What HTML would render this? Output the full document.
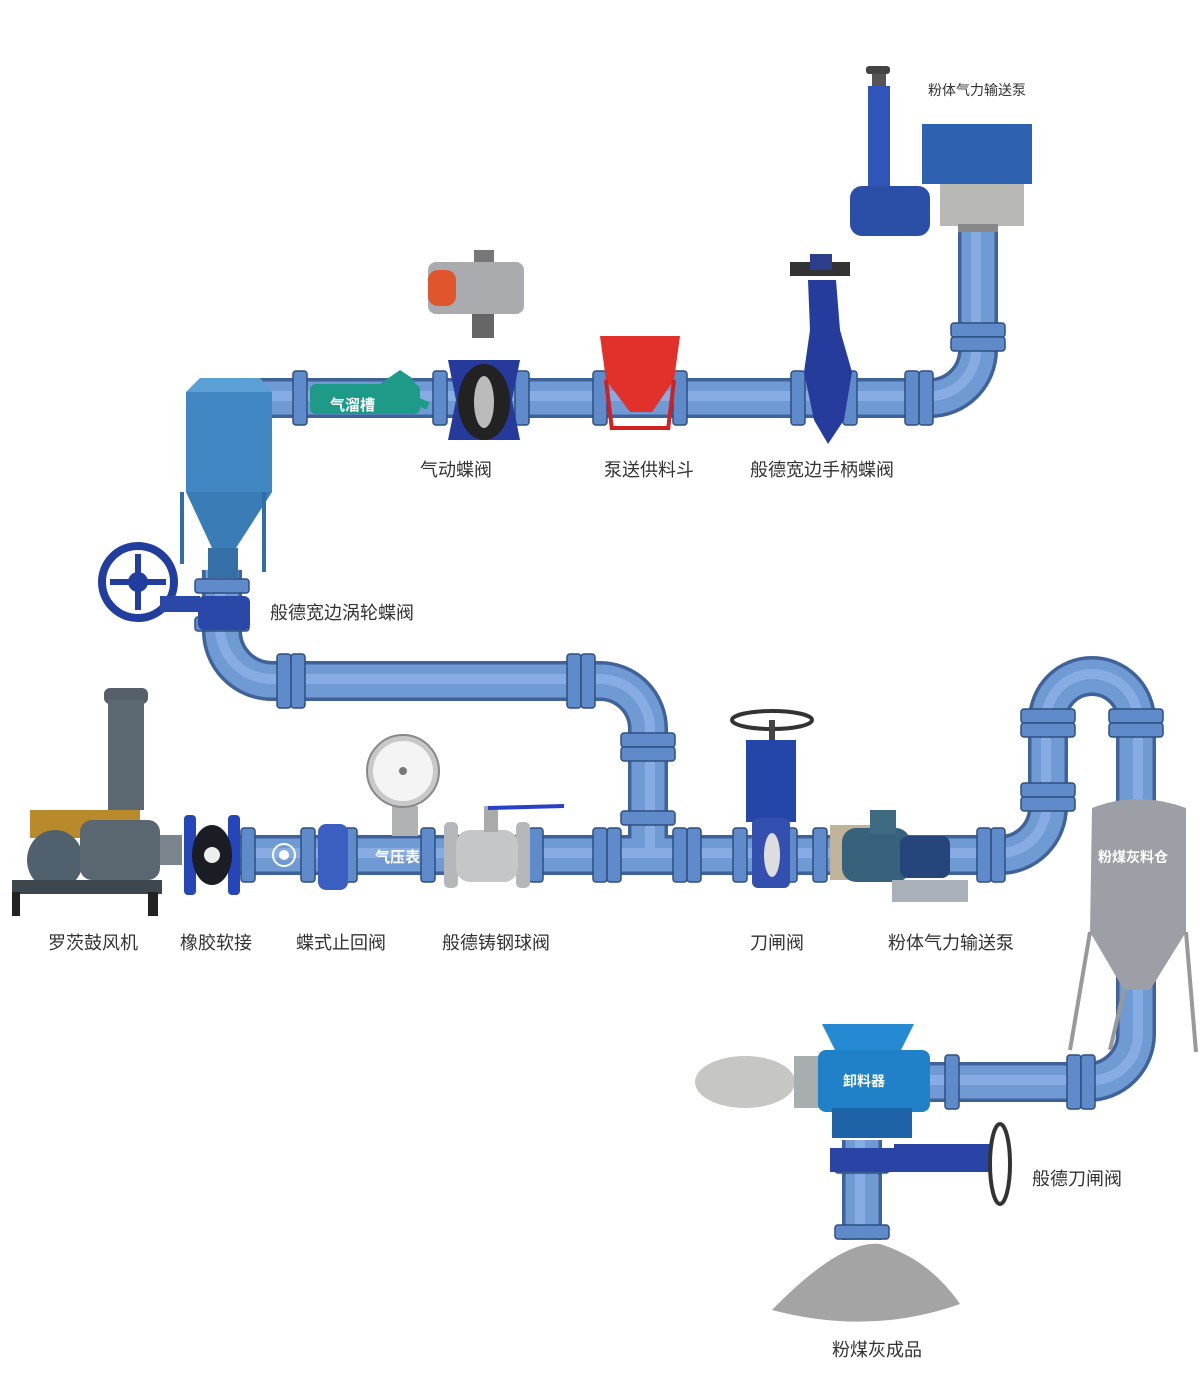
<!DOCTYPE html>
<html><head><meta charset="utf-8"><style>
html,body{margin:0;padding:0;background:#fff;}
svg{display:block;}
text{font-family:"Liberation Sans","Noto Sans CJK SC",sans-serif;}
</style></head><body>
<svg width="1200" height="1388" viewBox="0 0 1200 1388" xmlns="http://www.w3.org/2000/svg">
<defs>
<g id="fh"><rect x="-7" y="-27" width="14" height="54" rx="3" fill="#5f8bcb" stroke="#2f4f80" stroke-width="1.5"/></g>
<g id="fv"><rect x="-27" y="-7" width="54" height="14" rx="3" fill="#5f8bcb" stroke="#2f4f80" stroke-width="1.5"/></g>
</defs>
<g fill="none" stroke-linejoin="round">
<g stroke="#3f6399" stroke-width="40">
<path d="M240 398 H930 A48 48 0 0 0 978 350 V225"/>
<path d="M222 570 V630 A50 50 0 0 0 272 681 H600 A48 48 0 0 1 648 729 V855"/>
<path d="M240 855 H1000 A48 48 0 0 0 1048 807 V720 A44 44 0 0 1 1136 720 V1034 A48 48 0 0 1 1088 1082 H900"/>
<path d="M862 1140 V1240"/>
</g>
<g stroke="#6f9ad4" stroke-width="33">
<path d="M240 398 H930 A48 48 0 0 0 978 350 V225"/>
<path d="M222 570 V630 A50 50 0 0 0 272 681 H600 A48 48 0 0 1 648 729 V855"/>
<path d="M240 855 H1000 A48 48 0 0 0 1048 807 V720 A44 44 0 0 1 1136 720 V1034 A48 48 0 0 1 1088 1082 H900"/>
<path d="M862 1140 V1240"/>
</g>
<g stroke="#86ace3" stroke-width="10">
<path d="M240 396 H930 A46 46 0 0 0 976 350 V225"/>
<path d="M220 570 V630 A52 52 0 0 0 272 679 H600 A50 50 0 0 1 650 729 V855"/>
<path d="M240 853 H1000 A46 46 0 0 0 1046 807 V720 A46 46 0 0 1 1138 720 V1034 A46 46 0 0 1 1088 1080 H900"/>
<path d="M860 1140 V1240"/>
</g>
</g>
<g>
<use href="#fh" x="300" y="398"/><use href="#fh" x="440" y="398"/><use href="#fh" x="522" y="398"/>
<use href="#fh" x="600" y="398"/><use href="#fh" x="680" y="398"/><use href="#fh" x="798" y="398"/>
<use href="#fh" x="850" y="398"/><use href="#fh" x="912" y="398"/><use href="#fh" x="926" y="398"/>
<use href="#fh" x="284" y="681"/><use href="#fh" x="298" y="681"/><use href="#fh" x="574" y="681"/><use href="#fh" x="588" y="681"/>
<use href="#fh" x="248" y="855"/><use href="#fh" x="308" y="855"/><use href="#fh" x="350" y="855"/><use href="#fh" x="428" y="855"/>
<use href="#fh" x="536" y="855"/><use href="#fh" x="600" y="855"/><use href="#fh" x="614" y="855"/><use href="#fh" x="680" y="855"/><use href="#fh" x="694" y="855"/>
<use href="#fh" x="740" y="855"/><use href="#fh" x="790" y="855"/><use href="#fh" x="820" y="855"/><use href="#fh" x="984" y="855"/><use href="#fh" x="998" y="855"/>
<use href="#fh" x="1074" y="1082"/><use href="#fh" x="1088" y="1082"/><use href="#fh" x="952" y="1082"/>
</g>
<g>
<use href="#fv" x="978" y="330"/><use href="#fv" x="978" y="344"/>
<use href="#fv" x="648" y="740"/><use href="#fv" x="648" y="754"/><use href="#fv" x="648" y="818"/>
<use href="#fv" x="1048" y="716"/><use href="#fv" x="1048" y="730"/><use href="#fv" x="1048" y="790"/><use href="#fv" x="1048" y="804"/>
<use href="#fv" x="1136" y="716"/><use href="#fv" x="1136" y="730"/>
<use href="#fv" x="222" y="586"/><use href="#fv" x="222" y="624"/>
<use href="#fv" x="862" y="1166"/><use href="#fv" x="862" y="1232"/>
</g>

<g>
<rect x="104" y="688" width="44" height="16" rx="6" fill="#56606a"/>
<rect x="108" y="700" width="36" height="110" fill="#5c6872"/>
<rect x="30" y="810" width="110" height="28" fill="#b98a2b"/>
<ellipse cx="55" cy="860" rx="28" ry="30" fill="#50606c"/>
<rect x="80" y="820" width="80" height="60" rx="12" fill="#5a6670"/>
<rect x="12" y="880" width="150" height="14" fill="#3f474e"/>
<rect x="12" y="892" width="8" height="24" fill="#222"/><rect x="148" y="892" width="10" height="24" fill="#222"/>
<rect x="160" y="835" width="22" height="30" fill="#7a848c"/>
</g>
<rect x="184" y="815" width="12" height="80" rx="4" fill="#2545b8"/>
<rect x="228" y="815" width="12" height="80" rx="4" fill="#2545b8"/>
<ellipse cx="212" cy="855" rx="20" ry="30" fill="#1a1d24"/>
<circle cx="212" cy="855" r="8" fill="#eee"/>
<circle cx="284" cy="855" r="11" fill="none" stroke="#fff" stroke-width="2"/><circle cx="284" cy="855" r="5" fill="#fff"/>
<rect x="318" y="824" width="30" height="66" rx="8" fill="#3a5fc0"/>
<rect x="392" y="806" width="26" height="30" fill="#b0b2b4"/>
<circle cx="403" cy="771" r="36" fill="#c8c8c8" stroke="#888" stroke-width="2"/>
<circle cx="403" cy="771" r="30" fill="#f4f4f4"/>
<circle cx="403" cy="771" r="4" fill="#777"/>
<text x="375" y="862" font-size="15" font-weight="bold" fill="#fff">气压表</text>
<rect x="444" y="822" width="14" height="66" rx="5" fill="#b5b7ba"/>
<rect x="516" y="822" width="14" height="66" rx="5" fill="#b5b7ba"/>
<rect x="456" y="830" width="62" height="52" rx="14" fill="#c4c6c8"/>
<rect x="484" y="806" width="14" height="26" fill="#aaa"/>
<path d="M488 808 L564 806" stroke="#2a3fc8" stroke-width="4"/>
<ellipse cx="772" cy="720" rx="40" ry="9" fill="none" stroke="#333" stroke-width="4"/>
<rect x="769" y="720" width="6" height="22" fill="#444"/>
<rect x="746" y="740" width="50" height="82" fill="#2446a8"/>
<rect x="752" y="818" width="38" height="70" rx="6" fill="#3350b0"/>
<ellipse cx="772" cy="855" rx="8" ry="22" fill="#ddd"/>
<rect x="830" y="825" width="40" height="55" fill="#bfb49a"/>
<rect x="842" y="828" width="68" height="54" rx="14" fill="#36627c"/>
<rect x="900" y="836" width="50" height="42" rx="8" fill="#26457a"/>
<rect x="892" y="880" width="76" height="22" fill="#aab0b8"/>
<rect x="870" y="810" width="26" height="24" fill="#3e6a82"/>

<rect x="186" y="392" width="86" height="100" fill="#3f86c2"/>
<path d="M186 392 L200 378 L260 378 L272 392 Z" fill="#5aa0d4"/>
<path d="M186 492 L272 492 L236 548 L212 548 Z" fill="#3a7cb6"/>
<rect x="180" y="492" width="4" height="72" fill="#2f6ea8"/><rect x="262" y="492" width="4" height="80" fill="#2f6ea8"/>
<rect x="208" y="548" width="30" height="30" fill="#346fa6"/>
<circle cx="138" cy="582" r="36" fill="none" stroke="#213e9e" stroke-width="8"/>
<circle cx="138" cy="582" r="10" fill="#213e9e"/>
<path d="M110 582 H166 M138 554 V610" stroke="#213e9e" stroke-width="6"/>
<rect x="160" y="596" width="40" height="16" fill="#2a48a8"/>
<rect x="198" y="596" width="52" height="34" rx="6" fill="#2a48a8"/>

<rect x="310" y="384" width="110" height="30" rx="6" fill="#1e9a88"/>
<path d="M380 384 L400 370 L412 378 L420 392" fill="#1e9a88"/>
<path d="M400 410 L414 400 L428 406" stroke="#1e9a88" stroke-width="8" fill="none"/>
<text x="330" y="410" font-size="15" font-weight="bold" fill="#fff">气溜槽</text>
<rect x="428" y="262" width="96" height="52" rx="8" fill="#a9abae"/>
<rect x="428" y="270" width="28" height="36" rx="10" fill="#e0552b"/>
<rect x="474" y="250" width="20" height="12" fill="#777"/>
<rect x="472" y="314" width="22" height="24" fill="#666"/>
<path d="M448 360 L520 360 L512 400 L520 440 L448 440 L456 400 Z" fill="#253a9a"/>
<ellipse cx="484" cy="402" rx="26" ry="38" fill="#222"/>
<ellipse cx="484" cy="402" rx="10" ry="26" fill="#bbb"/>
<path d="M600 336 L680 336 L674 380 L652 412 L630 412 L606 380 Z" fill="#e2302b"/>
<path d="M606 380 L612 430 M674 380 L668 430 M612 428 L668 428" stroke="#d02020" stroke-width="4"/>
<rect x="790" y="262" width="60" height="14" fill="#333"/>
<rect x="810" y="254" width="22" height="16" fill="#2c3d8c"/>
<path d="M808 280 L836 280 L840 330 L852 372 L844 420 L828 444 L814 420 L804 372 L810 330 Z" fill="#263c9c"/>
<rect x="866" y="66" width="24" height="8" rx="3" fill="#444"/>
<rect x="872" y="74" width="14" height="14" fill="#555"/>
<rect x="868" y="86" width="22" height="120" fill="#2f55b8"/>
<rect x="850" y="186" width="80" height="50" rx="12" fill="#2b4ea6"/>
<rect x="922" y="124" width="110" height="60" fill="#2e61b0"/>
<rect x="940" y="184" width="84" height="42" fill="#b8b8b4"/>
<rect x="958" y="224" width="40" height="8" fill="#888"/>

<path d="M1092 808 Q1138 790 1186 808 L1186 932 L1150 990 L1124 990 L1090 932 Z" fill="#9ca0a6"/>
<path d="M1090 932 L1070 1050 M1186 932 L1196 1052 M1124 990 L1110 1050" stroke="#999" stroke-width="4"/>
<text x="1098" y="862" font-size="14" font-weight="bold" fill="#fff">粉煤灰料仓</text>
<ellipse cx="745" cy="1082" rx="50" ry="26" fill="#c6c6c2"/>
<rect x="794" y="1056" width="30" height="52" fill="#a8adb0"/>
<path d="M822 1024 L914 1024 L900 1052 L836 1052 Z" fill="#258ad2"/>
<rect x="818" y="1050" width="112" height="62" rx="8" fill="#2080c8"/>
<rect x="832" y="1108" width="80" height="30" fill="#1e62a8"/>
<text x="843" y="1086" font-size="14" font-weight="bold" fill="#fff">卸料器</text>
<rect x="830" y="1148" width="64" height="24" fill="#2a44a6"/>
<rect x="894" y="1144" width="96" height="28" fill="#2a44a6"/>
<ellipse cx="1000" cy="1164" rx="10" ry="40" fill="none" stroke="#333" stroke-width="4"/>
<path d="M772 1310 Q840 1240 880 1244 Q930 1260 960 1304 Q870 1336 772 1310 Z" fill="#a4a4a4"/>

<g font-size="18" fill="#333">
<text x="928" y="95" font-size="14">粉体气力输送泵</text>
<text x="420" y="476">气动蝶阀</text>
<text x="604" y="476">泵送供料斗</text>
<text x="750" y="476">般德宽边手柄蝶阀</text>
<text x="270" y="619">般德宽边涡轮蝶阀</text>
<text x="48" y="949">罗茨鼓风机</text>
<text x="180" y="949">橡胶软接</text>
<text x="296" y="949">蝶式止回阀</text>
<text x="442" y="949">般德铸钢球阀</text>
<text x="750" y="949">刀闸阀</text>
<text x="888" y="949">粉体气力输送泵</text>
<text x="1032" y="1185">般德刀闸阀</text>
<text x="832" y="1356">粉煤灰成品</text>
</g>
</svg>
</body></html>
